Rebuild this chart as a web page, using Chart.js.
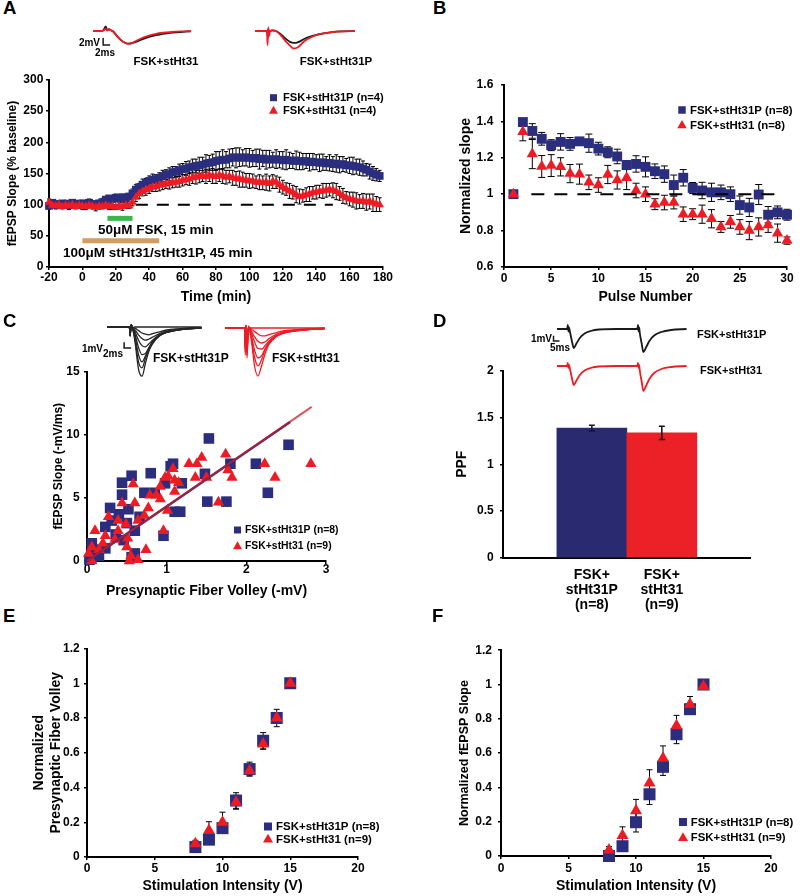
<!DOCTYPE html>
<html><head><meta charset="utf-8">
<script src="https://cdn.jsdelivr.net/npm/chart.js@4.4.1/dist/chart.umd.min.js"></script>
<style>
html,body{margin:0;padding:0;background:#fff;}
#root{position:relative;width:800px;height:896px;overflow:hidden;font-family:"Liberation Sans",Arial,sans-serif;font-weight:bold;color:#000;}
canvas{position:absolute;}
.t{position:absolute;white-space:nowrap;line-height:1;}
</style></head><body><div id="root"></div>
<script>
// ================= DATA =================
// Panel A: fEPSP slope time course
const timeA = [-20,-18,-16,-14,-12,-10,-8,-6,-4,-2,0,2,4,6,8,10,12,14,16,18,20,22,24,26,28,30,32,34,36,38,40,42,44,46,48,50,52,54,56,58,60,62,64,66,68,70,72,74,76,78,80,82,84,86,88,90,92,94,96,98,100,102,104,106,108,110,112,114,116,118,120,122,124,126,128,130,132,134,136,138,140,142,144,146,148,150,152,154,156,158,160,162,164,166,168,170,172,174,176,178];
const slopeA_P = [98,103,100,99,102,101,99,103,100,101,102,100,103,101,99,102,104,108,110,109,111,110,112,110,113,
118,124,128,132,135,138,140,141,143,146,148,149,152,153,155,
157,158,160,161,162,163,164,166,167,168,170,171,172,172,174,176,175,176,175,176,
175,174,175,173,174,172,173,172,173,172,171,172,171,170,171,170,169,170,168,169,
168,167,168,166,167,165,166,164,165,163,163,162,161,160,158,156,153,150,148,146];
const errA_P = [5,4,6,5,4,6,5,4,5,6,5,4,6,5,4,5,6,5,4,5,6,5,4,6,5,
7,8,6,9,7,8,9,7,8,9,8,10,9,8,10,
9,11,10,12,11,13,12,14,12,13,15,14,16,13,15,14,16,15,13,14,
15,13,14,16,13,15,14,12,15,13,14,16,13,12,15,14,13,12,14,13,
12,14,13,11,13,12,14,13,12,11,13,14,12,13,12,10,12,11,10,9];
const slopeA_31 = [104,99,98,100,97,99,98,100,97,99,98,97,99,98,96,98,97,99,97,98,96,98,97,99,98,
104,112,118,121,124,126,128,129,131,132,133,134,135,136,137,
139,140,141,143,144,145,146,145,147,146,145,147,146,144,145,143,142,141,140,139,
138,138,136,136,135,136,134,137,136,132,128,125,122,120,116,113,114,116,117,119,
120,121,122,123,124,123,121,118,114,111,109,108,106,105,106,104,105,103,101,100];
const errA_31 = [5,4,5,6,4,5,6,5,4,5,6,5,4,5,6,5,4,5,5,6,4,5,6,5,4,
6,7,8,7,9,8,7,8,9,8,7,9,8,8,9,
9,8,10,9,11,10,9,11,10,12,11,10,12,11,10,12,11,13,12,11,
12,11,10,12,11,13,12,11,10,12,11,10,12,11,13,12,10,11,12,10,
11,10,12,11,10,12,13,11,12,10,11,12,13,11,12,13,12,14,12,11];
const namesA = ['FSK+stHt31P (n=4)', 'FSK+stHt31 (n=4)'];
const baseA_x = [32, 150], baseA_y = [100, 100];
const fskBar_x = [15, 30], fskBar_y = [78, 78];
const pepBar_x = [0, 46], pepBar_y = [42, 42];

// Panel B: normalized slope vs pulse number
const pulseB = [1,2,3,4,5,6,7,8,9,10,11,12,13,14,15,16,17,18,19,20,21,22,23,24,25,26,27,28,29,30];
const slopeB_P = [1.00,1.396,1.347,1.304,1.269,1.287,1.276,1.29,1.28,1.25,1.23,1.207,1.16,1.166,1.15,1.126,1.11,1.05,1.09,1.034,1.02,1.01,1.01,1.00,0.94,0.927,0.998,0.887,0.90,0.887];
const errB_P = [0,0.01,0.04,0.035,0.03,0.045,0.035,0.02,0.05,0.035,0.03,0.04,0.025,0.045,0.055,0.04,0.045,0.055,0.045,0.03,0.045,0.05,0.04,0.04,0.05,0.05,0.055,0.045,0.035,0.03];
const slopeB_31 = [1.00,1.343,1.22,1.152,1.157,1.15,1.113,1.11,1.065,1.05,1.108,1.078,1.09,1.02,1.0,0.945,0.954,0.954,0.89,0.89,0.89,0.865,0.82,0.848,0.82,0.80,0.82,0.83,0.786,0.745];
const errB_31 = [0,0.05,0.08,0.06,0.06,0.05,0.05,0.055,0.04,0.04,0.05,0.05,0.065,0.04,0.04,0.03,0.04,0.035,0.04,0.03,0.05,0.05,0.03,0.035,0.04,0.05,0.05,0.04,0.05,0.02];
const namesB = ['FSK+stHt31P (n=8)', 'FSK+stHt31 (n=8)'];
const baseB_x = [2.9, 29.3], baseB_y = [1, 1];

// Panel C: input-output scatter
const fvC_P = [1.53,2.53,1.08,2.12,1.80,0.56,0.80,0.44,0.44,0.72,0.85,0.98,1.19,1.48,1.51,1.75,2.27,1.17,1.10,0.29,0.52,0.40,0.23,0.31,0.60,0.46,0.96,0.06,0.10,0.23,0.60,0.06,1.05,0.50,0.66,0.36,0.15,0.03,0.12,0.56];
const slC_P = [9.7,9.2,7.7,7.7,7.7,6.75,6.95,6.2,5.25,5.4,5.4,6.15,6.15,6.9,4.7,4.7,5.4,3.9,3.9,4.2,4.1,3.7,2.7,3.2,2.4,1.65,2.0,1.4,0.9,1.0,0.6,0.3,7.5,3.0,3.5,2.1,0.4,0.1,0.6,0.3];
const fvC_31 = [2.81,1.74,1.44,1.38,1.28,2.23,2.36,1.77,1.82,1.50,1.36,1.08,1.02,0.98,1.10,1.15,0.92,0.79,0.87,0.92,1.10,0.58,0.44,0.60,1.01,1.65,0.77,0.27,0.39,0.49,0.64,0.72,0.39,0.10,0.23,0.96,0.35,0.51,0.06,0.15,0.02,0.50,0.55,0.64,0.53,0.74,0.06,0.20];
const slC_31 = [7.7,8.45,8.2,7.7,7.7,7.7,6.6,7.2,6.6,6.6,6.6,7.3,6.7,6.6,6.4,6.2,5.9,5.2,5.2,4.9,5.5,6.1,4.6,4.6,4.0,4.65,4.2,3.5,3.2,2.9,3.2,3.6,2.4,2.4,2.0,2.4,1.7,1.8,1.1,0.9,0.6,1.1,0.4,0.1,0.0,0.9,0.0,1.4];
const fitC_P_x = [0, 2.55], fitC_P_y = [0, 11.0];
const fitC_31_x = [0, 2.82], fitC_31_y = [0, 12.2];
const namesC = ['FSK+stHt31P (n=8)', 'FSK+stHt31 (n=9)'];

// Panel D: PPF bars
const catsD = [['FSK+','stHt31P','(n=8)'], ['FSK+','stHt31','(n=9)']];
const ppfD = [1.385, 1.335];
const errD = [0.03, 0.07];

// Panels E & F
const stimEF = [8,9,10,11,12,13,14,15];
const fvE_P = [0.057,0.10,0.166,0.325,0.506,0.669,0.80,1.0];
const errE_P = [0.01,0.02,0.03,0.045,0.04,0.047,0.03,0];
const fvE_31 = [0.076,0.153,0.20,0.315,0.497,0.65,0.80,1.0];
const errE_31 = [0.02,0.05,0.058,0.04,0.03,0.03,0.05,0];
const slF_P = [0.0,0.057,0.197,0.36,0.52,0.71,0.856,1.0];
const errF_P = [0.01,0.02,0.057,0.06,0.05,0.055,0.03,0];
const slF_31 = [0.035,0.12,0.264,0.426,0.57,0.76,0.885,0.99];
const errF_31 = [0.02,0.05,0.066,0.077,0.072,0.06,0.045,0];
const namesEF = ['FSK+stHt31P (n=8)', 'FSK+stHt31 (n=9)'];

// Sample traces (ms, mV)
const trA1_t = [0,2,3,3.6,4.1,4.6,5.1,5.6,6.2,7,8,9,10,11,12,14,16,18,20,22,25,28];
const trA1_red = [0,0,0.1,0.6,0.1,0.5,0.2,0,-0.6,-1.6,-2.6,-3.3,-3.7,-3.5,-3.0,-2.0,-1.3,-0.8,-0.5,-0.3,-0.1,0];
const trA1_blk = [0,0,0.2,1.3,0.3,0.5,0.2,0,-0.6,-1.6,-2.6,-3.3,-3.6,-3.5,-3.2,-2.4,-1.7,-1.2,-0.8,-0.5,-0.3,-0.1];
const trA2_t = [0,2,3.4,3.6,3.8,4.0,4.3,5,6,7,8,9,10,11,12,13,14,16,18,20,22,25,28.5];
const trA2_red = [0,0,0,-4.0,1.0,-1.5,0,0.2,0,-0.8,-2.0,-3.2,-4.2,-5.0,-4.8,-4.0,-3.0,-1.8,-1.0,-0.6,-0.3,-0.1,0];
const trA2_blk = [0,0,0,-1.0,0.5,-0.3,0,0.2,0,-0.6,-1.5,-2.4,-3.1,-3.4,-3.3,-2.9,-2.3,-1.5,-1.0,-0.6,-0.3,-0.1,0];
const sbarA_x = [2.9,2.9,4.9], sbarA_y = [-2,-4,-4];

const trCB_t = [0,6.4,6.6,6.9,7.3,8,9,10,11,12,13,15,17,20,23,27];
const trCB = [
 [0,0,-1.5,0.4,-0.2,-2.5,-7.0,-8.2,-6.0,-4.0,-2.8,-1.5,-0.9,-0.5,-0.3,-0.2],
 [0,0,-1.5,0.4,-0.2,-2.0,-5.8,-6.8,-5.2,-3.6,-2.6,-1.4,-0.9,-0.5,-0.3,-0.2],
 [0,0,-1.5,0.4,-0.2,-1.6,-4.6,-5.8,-4.8,-3.5,-2.5,-1.4,-0.9,-0.5,-0.3,-0.2],
 [0,0,-1.4,0.4,-0.2,-1.2,-3.4,-4.6,-4.4,-3.4,-2.5,-1.4,-0.9,-0.5,-0.3,-0.1],
 [0,0,-1.4,0.4,-0.2,-0.8,-2.2,-3.1,-3.3,-2.8,-2.2,-1.3,-0.8,-0.5,-0.3,-0.1],
 [0,0,-1.3,0.3,-0.1,-0.5,-1.3,-1.9,-2.2,-2.0,-1.7,-1.1,-0.7,-0.4,-0.2,-0.1],
 [0,0,-1.2,0.3,-0.1,-0.2,-0.6,-1.0,-1.2,-1.3,-1.1,-0.8,-0.5,-0.3,-0.2,-0.1],
 [0,0,-1.2,0.3,-0.1,0,0,0,0,0,0,0,0,0,0,0]
];
const trCR_t = [0,5.6,5.8,6.0,6.3,6.7,7.5,8.5,9.4,10.5,11.5,12.5,14.5,16.5,19.5,23,28.5];
const trCR = [
 [0,0,-4.5,0.5,-5.0,0.3,-2.0,-6.5,-8.0,-6.2,-4.2,-2.8,-1.5,-0.9,-0.5,-0.3,-0.1],
 [0,0,-4.0,0.4,-4.5,0.3,-1.6,-5.0,-6.3,-5.2,-3.6,-2.6,-1.4,-0.9,-0.5,-0.3,-0.1],
 [0,0,-3.5,0.4,-4.0,0.2,-1.2,-3.8,-5.0,-4.6,-3.4,-2.5,-1.4,-0.9,-0.5,-0.3,-0.1],
 [0,0,-3.0,0.4,-3.5,0.2,-0.8,-2.4,-3.4,-3.5,-2.9,-2.2,-1.3,-0.8,-0.5,-0.3,-0.1],
 [0,0,-2.5,0.3,-3.0,0.2,-0.5,-1.5,-2.2,-2.5,-2.3,-1.8,-1.1,-0.7,-0.4,-0.2,-0.1],
 [0,0,-2.0,0.3,-2.5,0.1,-0.2,-0.6,-1.0,-1.3,-1.3,-1.1,-0.8,-0.5,-0.3,-0.2,0],
 [0,0,-1.5,0.3,-2.0,0.1,0,0,0,0,0,0,0,0,0,0,0]
];
const sbarC_x = [4.9,4.9,6.9], sbarC_y = [-2.55,-3.5,-3.5];

const trD_t = [0,8.5,9,9.5,10,11,12.5,14,16,19,23,28,35,50,67,67.5,68,68.5,69,70.5,72,74,77,81,87,95,108];
const trD_blk = [0,0,0.8,-0.5,0.3,-0.8,-2.5,-3.8,-3.0,-1.8,-0.9,-0.4,-0.1,0,0,0.8,-0.5,0.3,-0.8,-2.8,-4.6,-3.8,-2.4,-1.3,-0.6,-0.2,0];
const trD_red = [0,0,0.6,-0.4,0.2,-0.8,-2.5,-3.8,-3.0,-1.8,-0.9,-0.4,-0.1,0,0,0.6,-0.4,0.2,-0.9,-3.0,-5.0,-4.1,-2.6,-1.4,-0.6,-0.2,0];
const sbarD_x = [-2.9,-2.9,2.1], sbarD_y = [-1.34,-2.4,-2.4];

// ================= STYLE / HELPERS =================
const FF = '"Liberation Sans", Arial, Helvetica, sans-serif';
const NAVY = '#2b2e7e';
const RED = '#ed1c24';
const root = document.getElementById('root');
Chart.defaults.font.family = FF;
Chart.defaults.font.weight = 'bold';
Chart.defaults.color = '#000';

function pts(xs, ys){ return xs.map((x,i)=>({x:x, y:ys[i]})); }
function fmtNum(v){ return String(Number(Number(v).toFixed(2))); }
function makeCanvas(l,t,w,h){
  const c=document.createElement('canvas');
  c.width=w; c.height=h; c.style.left=l+'px'; c.style.top=t+'px'; c.style.width=w+'px'; c.style.height=h+'px';
  root.appendChild(c); return c;
}
function txt(s,x,y,size,align){
  const d=document.createElement('div'); d.className='t'; d.textContent=s;
  d.style.fontSize=size+'px'; d.style.top=(y-size*0.5)+'px';
  if(align==='center'){ d.style.left=x+'px'; d.style.transform='translateX(-50%)'; }
  else if(align==='right'){ d.style.right=(800-x)+'px'; }
  else d.style.left=x+'px';
  root.appendChild(d);
}
function drawMarker(ctx, style, x, y, s, color){
  ctx.fillStyle=color; ctx.beginPath();
  if(style==='rect'){ ctx.rect(x-s/2,y-s/2,s,s); }
  else { const h=s*0.87; ctx.moveTo(x,y-h*0.6); ctx.lineTo(x+s/2,y+h*0.4); ctx.lineTo(x-s/2,y+h*0.4); ctx.closePath(); }
  ctx.fill();
}
function drawErr(chart, onTop){
  const ctx=chart.ctx, ys=chart.scales.y;
  chart.data.datasets.forEach((ds,i)=>{
    if(!ds.err || (!!ds.errOnTop)!==onTop) return;
    const meta=chart.getDatasetMeta(i);
    ctx.save(); ctx.lineWidth=ds.errWidth||1;
    meta.data.forEach((el,j)=>{
      const e=ds.err[j]; if(!e) return;
      const v=ds.data[j].y, x=el.x;
      const yHi=ys.getPixelForValue(v+e), yLo=ys.getPixelForValue(v-e), cw=(ds.capWidth||4)/2;
      ctx.strokeStyle=Array.isArray(ds.errColor)?ds.errColor[j]:(ds.errColor||'#000');
      ctx.beginPath();
      ctx.moveTo(x,yLo); ctx.lineTo(x,yHi);
      ctx.moveTo(x-cw,yHi); ctx.lineTo(x+cw,yHi);
      ctx.moveTo(x-cw,yLo); ctx.lineTo(x+cw,yLo);
      ctx.stroke();
    });
    ctx.restore();
  });
}
const errBars={ id:'errBars', beforeDatasetsDraw(c){drawErr(c,false);}, afterDatasetsDraw(c){drawErr(c,true);} };
const miniLegend={ id:'miniLegend', afterDraw(chart,args,o){
  if(!o || !o.items) return;
  const ctx=chart.ctx, ox=chart.canvas.offsetLeft, oy=chart.canvas.offsetTop;
  ctx.save(); ctx.font='bold '+o.size+'px '+FF; ctx.textBaseline='middle'; ctx.textAlign='left';
  o.items.forEach(it=>{ drawMarker(ctx,it.style,it.mx-ox,it.my-oy,it.ms,it.color); ctx.fillStyle='#000'; ctx.fillText(it.text,it.tx-ox,it.my-oy+0.5); });
  ctx.restore();
}};
Chart.register(errBars, miniLegend);

function axis(o){
  return {
    type:'linear', min:o.min, max:o.max,
    ticks:{ stepSize:o.step, color:'#000', font:{family:FF,size:12,weight:'bold'}, padding:o.pad, callback:fmtNum, autoSkip:false, maxRotation:0 },
    grid:{ display:true, drawOnChartArea:false, drawTicks:true, tickLength:3, color:'#000', lineWidth:1.5 },
    border:{ display:true, color:'#000', width:2 },
    title: o.title ? { display:true, text:o.title, color:'#000', font:{family:FF,size:o.titleSize||14,weight:'bold',lineHeight:o.titleLH||1.2},
      padding: o.isX ? {top:0,bottom:o.titlePad} : {top:o.titlePad,bottom:0} } : {display:false},
    afterFit: s=>{ if(o.isX) s.height=o.fixed; else s.width=o.fixed; }
  };
}
function baseOpts(pad, scales, legend){
  return { responsive:false, animation:false, devicePixelRatio:1, layout:{padding:pad},
    plugins:{ legend:{display:false}, tooltip:{enabled:false}, miniLegend: legend||{} }, scales:scales };
}
function scatterSet(label, xs, ys, style, r, color, err, extra){
  return Object.assign({ label:label, data:pts(xs,ys), pointStyle:style, pointRadius:r, pointHoverRadius:r,
    backgroundColor:color, borderColor:color, borderWidth:0, showLine:false, clip:false, err:err }, extra||{});
}
function lineSet(xs, ys, color, w, dash){
  return { data:pts(xs,ys), showLine:true, borderColor:color, borderWidth:w, borderDash:dash||[], borderCapStyle:'butt', pointRadius:0, clip:false, fill:false };
}
function legendItems(names, pos){
  return [
    {text:names[0], style:'rect', color:NAVY, mx:pos.mx, my:pos.y1, ms:pos.s1, tx:pos.tx},
    {text:names[1], style:'tri', color:RED, mx:pos.mx, my:pos.y2, ms:pos.s2, tx:pos.tx}
  ];
}

// ================= PANEL A =================
new Chart(makeCanvas(0,70,400,240), { type:'scatter', data:{ datasets:[
  lineSet(baseA_x, baseA_y, '#000', 2, [12,9]),
  lineSet(fskBar_x, fskBar_y, '#3cb54a', 5),
  lineSet(pepBar_x, pepBar_y, '#d49c5e', 5),
  scatterSet(namesA[1], timeA, slopeA_31, 'triangle', 5, RED, errA_31, {capWidth:4}),
  scatterSet(namesA[0], timeA, slopeA_P, 'rect', 5.5, NAVY, errA_P, {capWidth:4})
]}, options: baseOpts({top:8,right:17,left:0,bottom:0}, {
  x: axis({min:-20,max:180,step:20,pad:0,isX:true,fixed:43,title:'Time (min)',titlePad:4.6}),
  y: axis({min:0,max:300,step:50,pad:2.7,fixed:49,title:'fEPSP Slope (% baseline)',titleSize:12,titlePad:5.2})
}, {size:11.2, items:legendItems(namesA,{mx:273.5,y1:97.7,y2:110.5,s1:7,s2:9,tx:283})}) });

// ================= PANEL B =================
new Chart(makeCanvas(440,70,360,240), { type:'scatter', data:{ datasets:[
  lineSet(baseB_x, baseB_y, '#000', 2, [13,10]),
  scatterSet(namesB[1], pulseB, slopeB_31, 'triangle', 6.5, RED, errB_31, {capWidth:7}),
  scatterSet(namesB[0], pulseB, slopeB_P, 'rect', 7, NAVY, errB_P, {capWidth:7})
]}, options: baseOpts({top:8,right:13,left:0,bottom:0}, {
  x: axis({min:0,max:30,step:5,pad:1.4,isX:true,fixed:43,title:'Pulse Number',titlePad:4.6}),
  y: axis({min:0.6,max:1.6,step:0.2,pad:7.7,fixed:64,title:'Normalized slope',titlePad:17.6})
}, {size:11.4, items:legendItems(namesB,{mx:682,y1:110,y2:125,s1:7.5,s2:9.5,tx:690})}) });

// ================= PANEL C =================
new Chart(makeCanvas(40,360,310,245), { type:'scatter', data:{ datasets:[
  lineSet(fitC_31_x, fitC_31_y, 'rgba(205,30,40,0.75)', 2),
  lineSet(fitC_P_x, fitC_P_y, '#3a2a6e', 2.6),
  scatterSet(namesC[1], fvC_31, slC_31, 'triangle', 6.5, RED),
  scatterSet(namesC[0], fvC_P, slC_P, 'rect', 7.5, NAVY)
]}, options: baseOpts({top:10,right:24,left:0,bottom:0}, {
  x: axis({min:0,max:3,step:1,pad:-1.5,isX:true,fixed:44,title:'Presynaptic Fiber Volley (-mV)',titlePad:5.9}),
  y: axis({min:0,max:15,step:5,pad:4.3,fixed:47,title:'fEPSP Slope (-mV/ms)',titleSize:12,titlePad:11.8})
}, {size:10.4, items:legendItems(namesC,{mx:237.5,y1:530,y2:546,s1:7,s2:9,tx:245})}) });

// ================= PANEL D =================
new Chart(makeCanvas(440,357,360,263), { type:'bar', data:{ datasets:[{
  label:'PPF', data:ppfD.map((v,i)=>({x:i,y:v})), backgroundColor:['#2a2a70','#ec2027'], borderWidth:0,
  barPercentage:1, categoryPercentage:1, err:errD, errOnTop:true, errColor:['#14143c','#111'], errWidth:1.5, capWidth:6
}]}, options: baseOpts({top:10,right:50,left:0,bottom:0}, {
  x: { type:'linear', min:-1.27, max:2.26, offset:false,
       afterBuildTicks: s=>{ s.ticks = catsD.map((c,i)=>({value:i})); },
       ticks:{ callback:v=>catsD[Math.round(v)], color:'#000', font:{family:FF,size:14,weight:'bold',lineHeight:'15px'}, padding:9.5, autoSkip:false, maxRotation:0 },
       grid:{ display:false, drawTicks:false, offset:false }, border:{ display:true, color:'#000', width:2 },
       afterFit: s=>{ s.height=62; } },
  y: axis({min:0,max:2,step:0.5,pad:6.3,fixed:63,title:'PPF',titlePad:13.6})
}) });

// ================= PANEL E =================
new Chart(makeCanvas(20,637,360,259), { type:'scatter', data:{ datasets:[
  scatterSet(namesEF[1], stimEF, fvE_31, 'triangle', 7, RED, errE_31, {capWidth:6}),
  scatterSet(namesEF[0], stimEF, fvE_P, 'rect', 8.5, NAVY, errE_P, {capWidth:6})
]}, options: baseOpts({top:10,right:22,left:0,bottom:0}, {
  x: axis({min:0,max:20,step:5,pad:1.4,isX:true,fixed:39,title:'Stimulation Intensity (V)',titlePad:1.6}),
  y: axis({min:0,max:1.2,step:0.2,pad:4.3,fixed:67,title:['Normalized','Presynaptic Fiber Volley'],titlePad:10.5,titleLH:17/14})
}, {size:11.5, items:legendItems(namesEF,{mx:268,y1:826.5,y2:839,s1:8,s2:10,tx:276})}) });

// ================= PANEL F =================
new Chart(makeCanvas(440,637,360,259), { type:'scatter', data:{ datasets:[
  scatterSet(namesEF[1], stimEF, slF_31, 'triangle', 7, RED, errF_31, {capWidth:6}),
  scatterSet(namesEF[0], stimEF, slF_P, 'rect', 8.5, NAVY, errF_P, {capWidth:6})
]}, options: baseOpts({top:10,right:29,left:0,bottom:0}, {
  x: axis({min:0,max:20,step:5,pad:2,isX:true,fixed:40,title:'Stimulation Intensity (V)',titlePad:1.6}),
  y: axis({min:0,max:1.2,step:0.2,pad:6,fixed:61,title:'Normalized fEPSP Slope',titleSize:12.5,titlePad:17.5})
}, {size:11.4, items:legendItems(namesEF,{mx:683,y1:822,y2:837.5,s1:8,s2:10,tx:690.7})}) });

// ================= TRACE INSETS =================
function traceChart(canvas, xr, yr, sets){
  return new Chart(canvas, { type:'line', data:{ datasets: sets.map(s=>({
      data:pts(s.x,s.y), borderColor:s.color, borderWidth:s.w||1.5, pointRadius:0, fill:false, clip:false,
      tension:0, cubicInterpolationMode: s.smooth===false ? 'default' : 'monotone', borderCapStyle:'butt' })) },
    options:{ responsive:false, animation:false, devicePixelRatio:1, layout:{padding:0},
      plugins:{legend:{display:false},tooltip:{enabled:false}},
      scales:{ x:{type:'linear',display:false,min:xr[0],max:xr[1]}, y:{type:'linear',display:false,min:yr[0],max:yr[1]} } } });
}
const BLK='#1a1a1a';
traceChart(makeCanvas(80,15,120,45), [-3.714,30.571], [-8.286,4.571], [
  {x:trA1_t,y:trA1_red,color:RED,w:1.8},{x:trA1_t,y:trA1_blk,color:BLK,w:1.8},
  {x:sbarA_x,y:sbarA_y,color:BLK,w:1.5,smooth:false}]);
traceChart(makeCanvas(245,15,125,45), [-2.857,32.857], [-8.286,4.571], [
  {x:trA2_t,y:trA2_red,color:RED,w:1.8},{x:trA2_t,y:trA2_blk,color:BLK,w:1.8}]);
traceChart(makeCanvas(95,318,115,65), [-3.429,29.43], [-9.333,1.5],
  trCB.map(y=>({x:trCB_t,y:y,color:'#262626',w:1.3})).concat([{x:sbarC_x,y:sbarC_y,color:BLK,w:1.5,smooth:false}]));
traceChart(makeCanvas(212,318,125,65), [-3.714,32.0], [-9.167,1.667],
  trCR.map(y=>({x:trCR_t,y:y,color:RED,w:1.3})));
traceChart(makeCanvas(530,318,170,40), [-22.5,119.2], [-5.8,2.2], [
  {x:trD_t,y:trD_blk,color:BLK,w:1.8},{x:sbarD_x,y:sbarD_y,color:BLK,w:1.5,smooth:false}]);
traceChart(makeCanvas(530,355,170,45), [-22.5,119.2], [-6.8,2.2], [
  {x:trD_t,y:trD_red,color:RED,w:1.8}]);

// ================= TEXT LABELS =================
[
 ['A',3,8.5,18.5,'left'],['B',433,8.5,18.5,'left'],['C',3,321,18.5,'left'],['D',433,321,18.5,'left'],['E',3,616,18.5,'left'],['F',432,616,18.5,'left'],
 ['2mV',100,42.5,10,'right'],['2ms',95,53,10,'left'],['FSK+stHt31',166,62,11.5,'center'],['FSK+stHt31P',336,62,11.5,'center'],
 ['50μM FSK, 15 min',98,229.5,13.5,'left'],['100μM stHt31/stHt31P, 45 min',63,252.5,13.5,'left'],
 ['1mV',103,348.5,10,'right'],['2ms',103,354,10,'left'],['FSK+stHt31P',153,358,12,'left'],['FSK+stHt31',272,358,12,'left'],
 ['1mV',552,339,10,'right'],['5ms',550,348,10,'left'],['FSK+stHt31P',697,334,11,'left'],['FSK+stHt31',700,370,11,'left']
].forEach(a=>txt(a[0],a[1],a[2],a[3],a[4]));
</script>
</body></html>
